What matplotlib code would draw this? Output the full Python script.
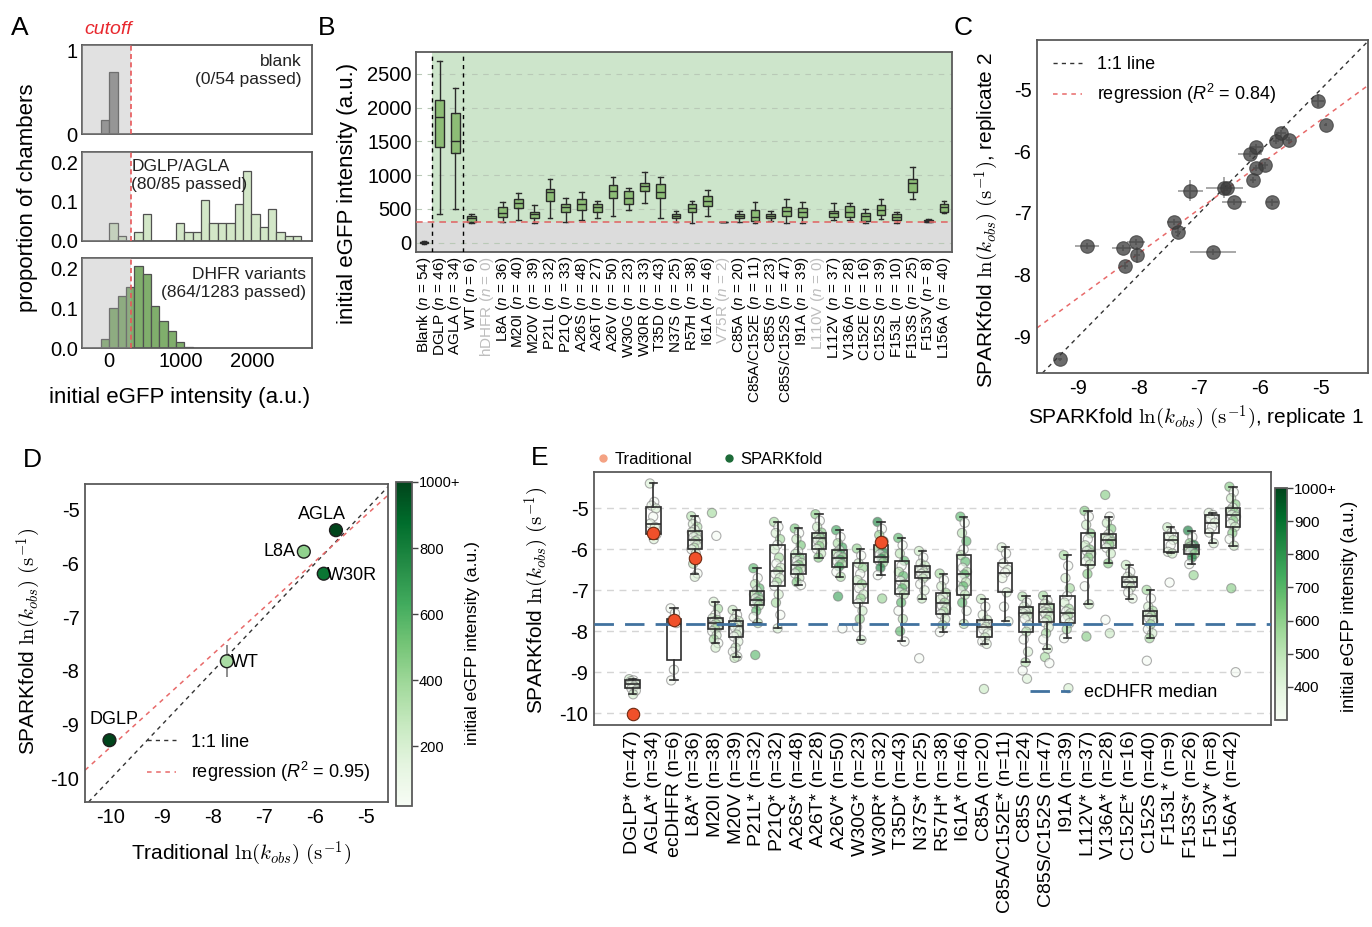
import numpy as np
import matplotlib
matplotlib.use("Agg")
import matplotlib.pyplot as plt
from matplotlib.colors import Normalize
from matplotlib.cm import ScalarMappable
from matplotlib.lines import Line2D

plt.rcParams['font.family'] = ['Liberation Sans', 'DejaVu Sans']
plt.rcParams['mathtext.fontset'] = 'custom'
plt.rcParams['mathtext.rm'] = 'Liberation Sans'
plt.rcParams['mathtext.it'] = 'Liberation Sans:italic'
plt.rcParams['mathtext.bf'] = 'Liberation Sans:bold'
plt.rcParams['axes.unicode_minus'] = False
plt.rcParams['axes.edgecolor'] = '#5a5a5a'
plt.rcParams['axes.linewidth'] = 1.3

# ---------------- DATA ----------------
# Panel A: histogram proportions (bin width in a.u.)
hist_bin_width = 117
cutoff = 300
blank_bin_start = -117
blank_props = [0.17, 0.74]
dglp_bin_start = 0
dglp_props = [0.047, 0.012, 0, 0.022, 0.07, 0, 0, 0, 0.047, 0.022, 0.022, 0.105,
              0.047, 0.047, 0.047, 0.095, 0.178, 0.07, 0.035, 0.082, 0.022, 0.012, 0.012]
dhfr_bin_start = -234
dhfr_props = [0.001, 0.022, 0.1, 0.13, 0.152, 0.204, 0.186, 0.104, 0.068, 0.042,
              0.015, 0.003, 0.001, 0.001]

# Panel B: initial eGFP intensity box stats
b_names = ['Blank', 'DGLP', 'AGLA', 'WT', 'hDHFR', 'L8A', 'M20I', 'M20V', 'P21L', 'P21Q',
           'A26S', 'A26T', 'A26V', 'W30G', 'W30R', 'T35D', 'N37S', 'R57H', 'I61A', 'V75R',
           'C85A', 'C85A/C152E', 'C85S', 'C85S/C152S', 'I91A', 'L110V', 'L112V', 'V136A',
           'C152E', 'C152S', 'F153L', 'F153S', 'F153V', 'L156A']
b_n = [54, 46, 34, 6, 0, 36, 40, 39, 32, 33, 48, 27, 50, 23, 33, 43, 25, 38, 46, 2,
       20, 11, 23, 47, 39, 0, 37, 28, 16, 39, 10, 25, 8, 40]
nan = np.nan
b_whishi = [30, 2693, 2288, 425, nan, 598, 731, 558, 944, 657, 756, 622, 973, 805, 1052, 978,
            474, 622, 781, 312, 464, 598, 474, 642, 608, nan, 583, 583, 499, 642, 450, 1126, 342, 622]
b_q3 = [15, 2115, 1927, 395, nan, 524, 647, 450, 795, 573, 642, 573, 855, 766, 889, 865,
        420, 573, 692, 308, 425, 484, 430, 534, 509, nan, 474, 543, 435, 558, 425, 939, 335, 573]
b_med = [5, 1868, 1507, 360, nan, 435, 593, 420, 756, 524, 573, 524, 771, 657, 840, 756,
         395, 519, 622, 304, 395, 385, 400, 474, 450, nan, 435, 460, 395, 484, 385, 889, 325, 524]
b_q1 = [-5, 1423, 1324, 311, nan, 385, 509, 370, 622, 460, 484, 450, 667, 573, 766, 657,
        360, 460, 543, 300, 360, 321, 370, 400, 385, nan, 385, 385, 326, 410, 336, 746, 312, 460]
b_whislo = [-20, 425, 500, 296, nan, 301, 336, 296, 360, 301, 336, 360, 395, 484, 593, 370,
            301, 296, 400, 298, 311, 296, 321, 296, 296, nan, 336, 336, 296, 346, 296, 642, 305, 435]

# Panel C: replicate comparison
c_rep1 = [-9.30, -8.85, -8.26, -8.23, -8.05, -8.03, -7.42, -7.35, -7.15, -6.78, -6.59, -6.54,
          -6.43, -6.17, -6.07, -6.07, -6.11, -5.92, -5.81, -5.74, -5.65, -5.52, -5.04, -4.92]
c_rep2 = [-9.37, -7.53, -7.57, -7.85, -7.47, -7.68, -7.14, -7.31, -6.64, -7.63, -6.59, -6.60,
          -6.82, -6.05, -5.93, -6.27, -6.47, -6.23, -6.83, -5.84, -5.71, -5.82, -5.18, -5.57]
c_err1 = [0.03, 0.2, 0.18, 0.05, 0.15, 0.05, 0.12, 0.05, 0.2, 0.38, 0.3, 0.1,
          0.2, 0.2, 0.1, 0.05, 0.05, 0.05, 0.1, 0.05, 0.08, 0.05, 0.1, 0.03]
c_err2 = [0.03, 0.05, 0.05, 0.05, 0.05, 0.13, 0.05, 0.08, 0.17, 0.05, 0.17, 0.05,
          0.05, 0.05, 0.05, 0.05, 0.05, 0.05, 0.05, 0.05, 0.05, 0.05, 0.1, 0.03]

# Panel E: SPARKfold ln(kobs) per variant
e_variants = ['DGLP', 'AGLA', 'ecDHFR', 'L8A', 'M20I', 'M20V', 'P21L', 'P21Q', 'A26S', 'A26T',
              'A26V', 'W30G', 'W30R', 'T35D', 'N37S', 'R57H', 'I61A', 'C85A', 'C85A/C152E', 'C85S',
              'C85S/C152S', 'I91A', 'L112V', 'V136A', 'C152E', 'C152S', 'F153L', 'F153S', 'F153V', 'L156A']
e_star = [1, 1, 0, 1, 0, 0, 1, 1, 1, 1, 1, 1, 1, 1, 1, 1, 1, 0, 1, 0, 0, 0, 1, 1, 1, 0, 1, 1, 1, 1]
e_n = [47, 34, 6, 36, 38, 39, 32, 32, 48, 28, 50, 23, 32, 43, 25, 38, 46, 20, 11, 24,
       47, 39, 37, 28, 16, 40, 9, 26, 8, 42]
e_whishi = [-9.17, -4.39, -7.44, -5.19, -7.28, -7.48, -6.46, -5.33, -5.49, -5.14, -5.53, -5.98,
            -5.33, -5.72, -6.04, -6.59, -5.20, -7.21, -5.95, -7.15, -7.13, -6.14, -5.06, -5.20,
            -6.38, -6.99, -5.46, -5.54, -5.11, -4.47]
e_q3 = [-9.19, -4.96, -7.70, -5.55, -7.68, -7.75, -7.01, -5.89, -6.11, -5.59, -6.02, -6.34,
        -5.90, -6.28, -6.40, -7.06, -6.14, -7.72, -6.34, -7.40, -7.33, -7.14, -5.61, -5.63,
        -6.67, -7.50, -5.59, -5.89, -5.16, -4.98]
e_med = [-9.29, -5.38, -7.82, -5.78, -7.79, -7.87, -7.24, -6.53, -6.38, -5.73, -6.20, -6.85,
         -6.19, -6.77, -6.56, -7.30, -6.61, -7.89, -6.57, -7.56, -7.54, -7.56, -6.04, -5.77,
         -6.80, -7.63, -5.77, -5.95, -5.35, -5.16]
e_q1 = [-9.39, -5.63, -8.70, -5.98, -7.94, -8.13, -7.37, -6.89, -6.59, -5.99, -6.42, -7.32,
        -6.32, -7.10, -6.71, -7.58, -7.11, -8.15, -7.05, -8.01, -7.78, -7.80, -6.37, -5.96,
        -6.93, -7.83, -6.06, -6.11, -5.59, -5.45]
e_whislo = [-9.54, -5.75, -9.20, -6.59, -8.29, -8.62, -7.80, -7.93, -6.87, -6.20, -6.67, -8.21,
            -6.63, -8.25, -7.20, -8.02, -7.82, -8.31, -7.76, -8.76, -8.43, -8.17, -7.34, -6.34,
            -7.20, -8.17, -6.10, -6.36, -5.85, -5.91]
# typical (greenest) intensity of the dots in each column, read from their colour
e_dot_int = [450, 420, 330, 520, 560, 480, 700, 560, 650, 620, 760, 600, 860, 700, 470, 560,
             700, 470, 420, 520, 560, 560, 620, 620, 470, 560, 470, 880, 420, 620]
e_points = [
    [-9.17, -9.2, -9.22, -9.28, -9.3, -9.32, -9.35, -9.4, -9.45, -9.54],
    [-4.39, -4.84, -4.93, -5.0, -5.2, -5.37, -5.45, -5.6, -5.63, -5.75],
    [-7.44, -7.56, -7.72, -7.8, -8.94, -9.2],
    [-5.19, -5.3, -5.38, -5.45, -5.52, -5.58, -5.65, -5.7, -5.76, -5.8, -5.85, -5.9, -5.96, -6.0, -6.1, -6.35, -6.59, -6.67],
    [-5.11, -5.67, -7.28, -7.45, -7.6, -7.68, -7.72, -7.76, -7.79, -7.82, -7.86, -7.9, -7.94, -8.0, -8.1, -8.2, -8.29, -8.4],
    [-7.48, -7.6, -7.7, -7.75, -7.8, -7.85, -7.87, -7.92, -8.0, -8.08, -8.13, -8.25, -8.4, -8.5, -8.62, -8.65],
    [-6.46, -6.7, -6.85, -6.95, -7.01, -7.1, -7.15, -7.2, -7.24, -7.28, -7.32, -7.37, -7.5, -7.65, -7.8, -8.58],
    [-5.33, -5.45, -5.6, -5.75, -5.89, -6.0, -6.2, -6.35, -6.45, -6.53, -6.6, -6.7, -6.8, -6.89, -7.1, -7.3, -7.6, -7.93],
    [-5.49, -5.6, -5.75, -5.9, -6.05, -6.11, -6.2, -6.28, -6.33, -6.38, -6.42, -6.48, -6.53, -6.59, -6.7, -6.8, -6.87],
    [-5.14, -5.3, -5.45, -5.59, -5.65, -5.7, -5.73, -5.78, -5.85, -5.92, -5.99, -6.1, -6.2],
    [-5.53, -5.7, -5.85, -5.95, -6.02, -6.08, -6.13, -6.17, -6.2, -6.25, -6.3, -6.36, -6.42, -6.55, -6.67, -7.15, -7.93],
    [-5.98, -6.15, -6.34, -6.45, -6.6, -6.75, -6.85, -6.95, -7.1, -7.2, -7.32, -7.5, -7.7, -7.9, -8.21],
    [-5.33, -5.5, -5.65, -5.8, -5.9, -5.98, -6.05, -6.12, -6.18, -6.22, -6.27, -6.32, -6.45, -6.63, -7.2],
    [-5.72, -5.9, -6.1, -6.28, -6.4, -6.55, -6.65, -6.77, -6.85, -6.95, -7.05, -7.1, -7.3, -7.5, -7.7, -8.0, -8.25],
    [-6.04, -6.2, -6.35, -6.4, -6.48, -6.53, -6.56, -6.6, -6.65, -6.71, -6.85, -7.0, -7.2, -8.66],
    [-6.59, -6.75, -6.9, -7.06, -7.15, -7.22, -7.3, -7.38, -7.45, -7.52, -7.58, -7.7, -7.85, -8.02],
    [-5.2, -5.35, -5.6, -5.8, -6.0, -6.14, -6.3, -6.45, -6.55, -6.61, -6.7, -6.8, -6.9, -7.0, -7.11, -7.3, -7.5, -7.82],
    [-7.21, -7.4, -7.6, -7.72, -7.8, -7.85, -7.89, -7.95, -8.05, -8.15, -8.25, -8.31, -9.41],
    [-5.95, -6.1, -6.34, -6.5, -6.57, -6.7, -7.05, -7.4, -7.76],
    [-7.15, -7.3, -7.4, -7.48, -7.53, -7.56, -7.62, -7.7, -7.85, -8.01, -8.2, -8.5, -8.76, -8.96, -9.16],
    [-7.13, -7.25, -7.33, -7.4, -7.47, -7.52, -7.54, -7.58, -7.65, -7.72, -7.78, -7.9, -8.05, -8.2, -8.43, -8.63, -8.78],
    [-6.14, -6.4, -6.7, -6.95, -7.14, -7.3, -7.45, -7.52, -7.56, -7.62, -7.7, -7.8, -7.95, -8.17, -9.39],
    [-5.06, -5.2, -5.4, -5.61, -5.75, -5.9, -6.0, -6.04, -6.1, -6.2, -6.3, -6.37, -6.6, -6.9, -7.34, -8.13],
    [-4.67, -5.2, -5.35, -5.5, -5.63, -5.7, -5.75, -5.77, -5.82, -5.88, -5.96, -6.1, -6.34, -7.72, -8.05],
    [-6.38, -6.55, -6.67, -6.74, -6.8, -6.85, -6.93, -7.05, -7.2],
    [-6.99, -7.2, -7.4, -7.5, -7.56, -7.6, -7.63, -7.68, -7.75, -7.83, -7.95, -8.05, -8.17, -8.72],
    [-5.46, -5.59, -5.68, -5.77, -5.9, -6.06, -6.1, -6.81],
    [-5.54, -5.7, -5.85, -5.89, -5.92, -5.95, -6.0, -6.06, -6.11, -6.2, -6.36, -6.63],
    [-5.11, -5.16, -5.25, -5.35, -5.45, -5.59, -5.85],
    [-4.47, -4.6, -4.75, -4.9, -4.98, -5.05, -5.1, -5.16, -5.2, -5.3, -5.38, -5.45, -5.6, -5.75, -5.91, -6.95, -9.0],
]

# Traditional measurements (panels D and E)
trad_variants = ['DGLP', 'AGLA', 'ecDHFR', 'L8A', 'W30R']
trad_labels = ['DGLP', 'AGLA', 'WT', 'L8A', 'W30R']
trad_values = [-10.03, -5.59, -7.73, -6.22, -5.83]
trad_spark_err = [0.05, 0.05, 0.3, 0.05, 0.05]
r2_C = 0.84
r2_D = 0.95

# ---------------- FIGURE ----------------
W, H = 1372, 927
fig = plt.figure(figsize=(W / 100, H / 100), dpi=100)


def rect(l, t, r, b):
    return [l / W, 1 - b / H, (r - l) / W, (b - t) / H]


def ftext(x, y, s, **kw):
    return fig.text(x / W, 1 - y / H, s, **kw)


TICK = 14.5
LAB = 16
kobs = r"$\mathrm{ln}(k_{obs})$ $(\mathrm{s}^{-1})$"
greens = plt.get_cmap('Greens')

# ---------- Panel A ----------
a_rects = [(82, 45, 312, 134), (82, 152, 312, 241), (82, 258, 312, 348)]
a_props = [blank_props, dglp_props, dhfr_props]
a_starts = [blank_bin_start, dglp_bin_start, dhfr_bin_start]
a_colors = ['#8c8c8c', '#d3e7c8', '#80ae6c']
a_ytop = [1.07, 0.227, 0.225]
a_yticks = [([0, 1], ['0', '1']), ([0, 0.1, 0.2], ['0.0', '0.1', '0.2']),
            ([0, 0.1, 0.2], ['0.0', '0.1', '0.2'])]
a_texts = [("blank\n(0/54 passed)", 0.955, 0.9, 'right'),
           ("DGLP/AGLA\n(80/85 passed)", 0.215, 0.92, 'left'),
           ("DHFR variants\n(864/1283 passed)", 0.975, 0.9, 'right')]
for i in range(3):
    ax = fig.add_axes(rect(*a_rects[i]))
    props = np.array(a_props[i], dtype=float)
    edges = a_starts[i] + hist_bin_width * np.arange(len(props) + 1)
    centers = edges[:-1] + hist_bin_width / 2
    ax.hist(centers, bins=edges, weights=props, color=a_colors[i],
            edgecolor='#505050', linewidth=0.9, zorder=2)
    ax.set_xlim(-380, 2840)
    ax.set_ylim(0, a_ytop[i])
    ax.axvspan(-380, cutoff, color='#a9a9a9', alpha=0.35, lw=0, zorder=3)
    ax.axvline(cutoff, color='#e8575a', lw=1.2, ls=(0, (3, 2)), zorder=4)
    ax.set_yticks(a_yticks[i][0])
    ax.set_yticklabels(a_yticks[i][1], fontsize=TICK)
    ax.set_xticks([0, 1000, 2000])
    if i < 2:
        ax.set_xticklabels([])
    else:
        ax.set_xticklabels(['0', '1000', '2000'], fontsize=TICK)
    ax.tick_params(length=0, pad=3)
    t, x, y, ha = a_texts[i]
    ax.text(x, y, t, transform=ax.transAxes, ha=ha, va='top', fontsize=12.5,
            color='#222222', linespacing=1.25, zorder=5)

ftext(20, 28, 'A', fontsize=19, ha='center', va='center')
ftext(108, 30, 'cutoff', fontsize=14, color='#e8282e', style='italic', ha='center', va='center')
ftext(27, 198, 'proportion of chambers', fontsize=LAB, rotation=90, ha='center', va='center')
ftext(180, 397, 'initial eGFP intensity (a.u.)', fontsize=LAB, ha='center', va='center')

# ---------- Panel B ----------
axB = fig.add_axes(rect(416, 52, 952, 252))
nB = len(b_names)
b_ymin, b_ymax = -140, 2825
axB.set_xlim(-0.5, nB - 0.5)
axB.set_ylim(b_ymin, b_ymax)
axB.axhspan(b_ymin, cutoff, color='#dcdcdc', lw=0, zorder=0)
axB.fill_between([0.5, nB - 0.5], cutoff, b_ymax, color='#cde5cb', lw=0, zorder=0)
axB.set_axisbelow(True)
axB.yaxis.grid(True, color='#b9c9b7', ls=(0, (5, 5)), lw=0.8)
stats, pos = [], []
for i in range(nB):
    if b_n[i] == 0:
        continue
    stats.append(dict(med=b_med[i], q1=b_q1[i], q3=b_q3[i], whislo=b_whislo[i],
                      whishi=b_whishi[i], fliers=[]))
    pos.append(i)
ec = '#2a2a2a'
axB.bxp(stats, positions=pos, widths=0.55, patch_artist=True, showfliers=False,
        boxprops=dict(facecolor='#8dbd76', edgecolor=ec, linewidth=1),
        medianprops=dict(color=ec, linewidth=1),
        whiskerprops=dict(color=ec, linewidth=1),
        capprops=dict(color=ec, linewidth=1), capwidths=0.3, manage_ticks=False)
axB.axhline(cutoff, color='#e06a6a', lw=1.2, ls=(0, (4, 3)), zorder=4)
axB.axvline(0.5, color='k', lw=1, ls=(0, (3, 3)), zorder=4)
axB.axvline(2.5, color='k', lw=1, ls=(0, (3, 3)), zorder=4)
axB.set_yticks([0, 500, 1000, 1500, 2000, 2500])
axB.set_yticklabels(['0', '500', '1000', '1500', '2000', '2500'], fontsize=TICK)
axB.set_xticks(range(nB))
axB.set_xticklabels([f"{nm} ($n$ = {n})" for nm, n in zip(b_names, b_n)],
                    rotation=90, fontsize=11)
for lbl, n in zip(axB.get_xticklabels(), b_n):
    if n < 3:
        lbl.set_color('#bdbdbd')
axB.tick_params(length=0, pad=3)
ftext(327, 28, 'B', fontsize=19, ha='center', va='center')
ftext(347, 193, 'initial eGFP intensity (a.u.)', fontsize=LAB, rotation=90, ha='center', va='center')

# ---------- Panel C ----------
axC = fig.add_axes(rect(1037, 40, 1368, 373))
axC.set_xlim(-9.68, -4.22)
axC.set_ylim(-9.59, -4.20)
axC.axline((-7, -7), slope=1, color='#333333', lw=1, ls=(0, (3, 3)), label='1:1 line', zorder=1)
sC, iC = np.polyfit(c_rep1, c_rep2, 1)
axC.axline((0, iC), slope=sC, color='#e86a6a', lw=1.1, ls=(0, (3, 3)),
           label=f"regression ($R^2$ = {r2_C:.2f})", zorder=1)
axC.errorbar(c_rep1, c_rep2, xerr=c_err1, yerr=c_err2, fmt='none', ecolor='#9a9a9a',
             elinewidth=1.2, capsize=0, zorder=2)
axC.scatter(c_rep1, c_rep2, s=95, color='#3a3a3a', alpha=0.75, edgecolor='#3a3a3a',
            linewidth=0.8, zorder=3)
axC.set_xticks([-9, -8, -7, -6, -5])
axC.set_yticks([-9, -8, -7, -6, -5])
axC.tick_params(labelsize=TICK, length=0, pad=4)
axC.legend(loc='upper left', frameon=False, fontsize=13, handlelength=1.6,
           borderaxespad=0.5, labelspacing=0.5)
ftext(963, 28, 'C', fontsize=19, ha='center', va='center')
ftext(987, 220, "SPARKfold " + kobs + ", replicate 2", fontsize=15, rotation=90,
      ha='center', va='center', math_fontfamily='cm')
ftext(1196, 418, "SPARKfold " + kobs + ", replicate 1", fontsize=15,
      ha='center', va='center', math_fontfamily='cm')

# ---------- Panel D ----------
axD = fig.add_axes(rect(85, 484, 388, 802))
axD.set_xlim(-10.51, -4.57)
axD.set_ylim(-10.44, -4.52)
d_y = [e_med[e_variants.index(v)] for v in trad_variants]
d_int = [b_med[b_names.index(k)] for k in trad_labels]
normD = Normalize(20, 1000)
axD.axline((-7, -7), slope=1, color='#333333', lw=1, ls=(0, (3, 3)), label='1:1 line', zorder=1)
sD, iD = np.polyfit(trad_values, d_y, 1)
axD.axline((0, iD), slope=sD, color='#e86a6a', lw=1.1, ls=(0, (3, 3)),
           label=f"regression ($R^2$ = {r2_D:.2f})", zorder=1)
axD.errorbar(trad_values, d_y, yerr=trad_spark_err, fmt='none', ecolor='#7a7a7a',
             elinewidth=1.2, capsize=0, zorder=2)
axD.scatter(trad_values, d_y, c=d_int, cmap=greens, norm=normD, s=85,
            edgecolor='#1e1e1e', linewidth=1, zorder=3)
d_offsets = {'AGLA': (-10, 11, 'center'), 'L8A': (-6, 0, 'right'), 'W30R': (2.5, -1, 'left'),
             'WT': (3, -1, 'left'), 'DGLP': (3, 15, 'center')}
for lab, x, y in zip(trad_labels, trad_values, d_y):
    dx, dy, ha = d_offsets[lab]
    axD.annotate(lab, (x, y), xytext=(dx, dy), textcoords='offset points', ha=ha,
                 va='center', fontsize=13)
axD.set_xticks([-10, -9, -8, -7, -6, -5])
axD.set_yticks([-10, -9, -8, -7, -6, -5])
axD.tick_params(labelsize=TICK, length=0, pad=4)
axD.legend(loc='lower right', frameon=False, fontsize=13, handlelength=1.6,
           borderaxespad=0.6, labelspacing=0.5)
caxD = fig.add_axes(rect(396, 482, 412, 806))
cbD = fig.colorbar(ScalarMappable(norm=normD, cmap=greens), cax=caxD)
cbD.set_ticks([200, 400, 600, 800, 1000])
cbD.set_ticklabels(['200', '400', '600', '800', '1000+'])
caxD.tick_params(labelsize=10.5, length=4, width=1, pad=1, color='#444444')
cbD.outline.set_edgecolor('#5a5a5a')
ftext(32, 460, 'D', fontsize=19, ha='center', va='center')
ftext(29, 641, "SPARKfold " + kobs, fontsize=15, rotation=90, ha='center', va='center',
      math_fontfamily='cm')
ftext(241, 854, "Traditional " + kobs, fontsize=15, ha='center', va='center',
      math_fontfamily='cm')
ftext(472, 643, 'initial eGFP intensity (a.u.)', fontsize=12.5, rotation=90,
      ha='center', va='center')

# ---------- Panel E ----------
axE = fig.add_axes(rect(594, 472, 1271, 725))
nE = len(e_variants)
axE.set_xlim(-1.87, nE + 0.84)
axE.set_ylim(-10.29, -4.11)
axE.set_axisbelow(True)
axE.yaxis.grid(True, color='#d5d5d5', ls=(0, (5, 4)), lw=1)
normE = Normalize(300, 1000)
low_int = 310
for i, vals in enumerate(e_points):
    vals = np.asarray(vals, dtype=float)
    k = np.arange(len(vals))
    jit = ((k * 0.6180339) % 1.0 - 0.5) * 0.34
    levels = [e_dot_int[i], (e_dot_int[i] + low_int) / 2, low_int]
    ints = np.array([levels[(j * 2) % 3] for j in k])
    axE.scatter(i + jit, vals, c=ints, cmap=greens, norm=normE, s=44, alpha=0.62,
                edgecolor='#7d7d7d', linewidth=0.8, zorder=2)
statsE = [dict(med=e_med[i], q1=e_q1[i], q3=e_q3[i], whislo=e_whislo[i],
               whishi=e_whishi[i], fliers=[]) for i in range(nE)]
axE.bxp(statsE, positions=range(nE), widths=0.7, patch_artist=True, showfliers=False,
        boxprops=dict(facecolor='none', edgecolor='#2e2e2e', linewidth=1.2),
        medianprops=dict(color='#2e2e2e', linewidth=1.2),
        whiskerprops=dict(color='#2e2e2e', linewidth=1.2),
        capprops=dict(color='#2e2e2e', linewidth=1.2), capwidths=0.35,
        manage_ticks=False, zorder=3)
trad_pos = [e_variants.index(v) for v in trad_variants]
axE.scatter(trad_pos, trad_values, s=80, color='#f0502a', edgecolor='#6e2a12',
            linewidth=0.8, zorder=5)
ec_med = e_med[e_variants.index('ecDHFR')]
med_line = axE.axhline(ec_med, color='#41729f', lw=2, ls=(0, (7, 4)), zorder=4,
                       label='ecDHFR median')
axE.legend(handles=[med_line], loc='lower right', bbox_to_anchor=(0.945, 0.03),
           frameon=False, fontsize=13, handlelength=2.2)
axE.set_yticks([-10, -9, -8, -7, -6, -5])
axE.set_xticks(range(nE))
axE.set_xticklabels([f"{v}{'*' if s else ''} (n={n})" for v, s, n in zip(e_variants, e_star, e_n)],
                    rotation=90, fontsize=14)
axE.tick_params(axis='y', labelsize=TICK)
axE.tick_params(length=0, pad=4)
leg_handles = [Line2D([], [], marker='o', ls='none', color='#f4a283', markersize=5, label='Traditional'),
               Line2D([], [], marker='o', ls='none', color='#1d6b38', markersize=5, label='SPARKfold')]
fig.legend(handles=leg_handles, loc='center left', bbox_to_anchor=(581 / W, 1 - 459 / H),
           ncol=2, frameon=False, fontsize=12, columnspacing=1.8, handletextpad=0.3,
           handlelength=0.8)
caxE = fig.add_axes(rect(1275, 488, 1287, 720))
cbE = fig.colorbar(ScalarMappable(norm=normE, cmap=greens), cax=caxE)
cbE.set_ticks([400, 500, 600, 700, 800, 900, 1000])
cbE.set_ticklabels(['400', '500', '600', '700', '800', '900', '1000+'])
caxE.tick_params(labelsize=11, length=4, width=1, pad=1, color='#444444')
cbE.outline.set_edgecolor('#5a5a5a')
ftext(540, 458, 'E', fontsize=19, ha='center', va='center')
ftext(537, 600, "SPARKfold " + kobs, fontsize=15, rotation=90, ha='center', va='center',
      math_fontfamily='cm')
ftext(1350, 606, 'initial eGFP intensity (a.u.)', fontsize=13, rotation=90,
      ha='center', va='center')

fig.savefig('out.png', dpi=100)
